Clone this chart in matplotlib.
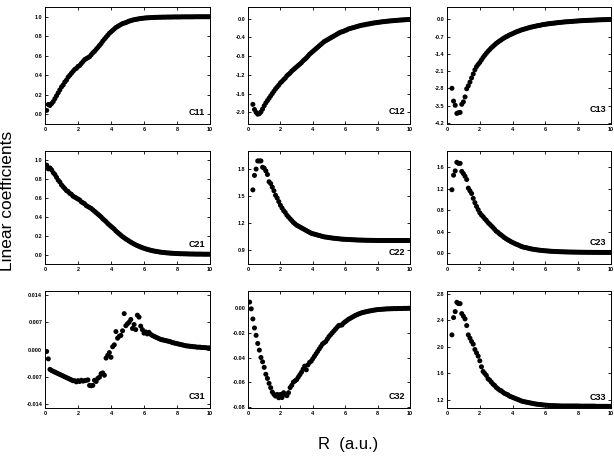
import numpy as np
import matplotlib
matplotlib.use("Agg")
import matplotlib.pyplot as plt

plt.rcParams['font.family'] = ['Liberation Sans', 'DejaVu Sans']

# R grid (a.u.), step 0.1
R = np.round(np.arange(1, 101) * 0.1, 1)

c11 = [0.04, 0.10, 0.09, 0.11, 0.13, 0.16, 0.19, 0.22, 0.25, 0.28,
       0.30, 0.33, 0.35, 0.38, 0.40, 0.42, 0.44, 0.46, 0.47, 0.49,
       0.50, 0.52, 0.54, 0.56, 0.57, 0.58, 0.59, 0.61, 0.63, 0.645,
       0.665, 0.685, 0.705, 0.725, 0.75, 0.77, 0.79, 0.81, 0.83, 0.845,
       0.86, 0.875, 0.89, 0.90, 0.91, 0.92, 0.93, 0.935, 0.94, 0.948,
       0.955, 0.96, 0.965, 0.97, 0.973, 0.976, 0.979, 0.982, 0.984, 0.986,
       0.988, 0.989, 0.990, 0.991, 0.992, 0.993, 0.994, 0.994, 0.995, 0.995,
       0.996, 0.996, 0.996, 0.997, 0.997, 0.997, 0.997, 0.998, 0.998, 0.998,
       0.998, 0.998, 0.999, 0.999, 0.999, 0.999, 0.999, 0.999, 0.999, 0.999,
       1.0, 1.0, 1.0, 1.0, 1.0, 1.0, 1.0, 1.0, 1.0, 1.0]

c12 = [-1.83, -1.94, -2.00, -2.04, -2.03, -1.99, -1.93, -1.86,
       -1.80, -1.75, -1.70, -1.65, -1.60, -1.55, -1.50, -1.46, -1.42, -1.37,
       -1.34, -1.30, -1.27, -1.22, -1.19, -1.16, -1.12, -1.09, -1.06, -1.03,
       -1.00, -0.97, -0.94, -0.90, -0.87, -0.84, -0.80, -0.76, -0.73, -0.70,
       -0.67, -0.64, -0.61, -0.58, -0.55, -0.52, -0.49, -0.47, -0.45, -0.43,
       -0.41, -0.39, -0.37, -0.35, -0.33, -0.31, -0.29, -0.28, -0.27, -0.25,
       -0.24, -0.22, -0.21, -0.20, -0.19, -0.18, -0.17, -0.16, -0.15, -0.14,
       -0.135, -0.13, -0.12, -0.115, -0.11, -0.10, -0.095, -0.09, -0.085, -0.08,
       -0.075, -0.07, -0.066, -0.062, -0.058, -0.054, -0.05, -0.047, -0.044, -0.041,
       -0.038, -0.035, -0.032, -0.029, -0.027, -0.025, -0.022, -0.02, -0.018, -0.016]

c13 = [-2.80, -3.32, -3.49, -3.82, -3.79, -3.78, -3.45, -3.35,
       -3.15, -2.82, -2.70, -2.55, -2.38, -2.22, -2.05, -1.92, -1.83, -1.75,
       -1.65, -1.55, -1.46, -1.38, -1.30, -1.23, -1.16, -1.10, -1.04, -0.98,
       -0.93, -0.88, -0.84, -0.79, -0.75, -0.71, -0.68, -0.64, -0.61, -0.58,
       -0.55, -0.52, -0.49, -0.47, -0.44, -0.42, -0.40, -0.38, -0.36, -0.34,
       -0.32, -0.31, -0.29, -0.28, -0.26, -0.25, -0.24, -0.22, -0.21, -0.20,
       -0.19, -0.18, -0.17, -0.165, -0.155, -0.15, -0.14, -0.13, -0.125, -0.12,
       -0.11, -0.105, -0.10, -0.095, -0.09, -0.085, -0.08, -0.075, -0.07, -0.065,
       -0.06, -0.056, -0.052, -0.048, -0.045, -0.042, -0.039, -0.036, -0.033, -0.03,
       -0.027, -0.024, -0.021, -0.018, -0.016, -0.014, -0.012, -0.01, -0.008, -0.006]

c21 = [0.95, 0.91, 0.92, 0.90, 0.87, 0.85, 0.82, 0.79, 0.77, 0.74,
       0.72, 0.70, 0.68, 0.67, 0.65, 0.64, 0.62, 0.61, 0.60, 0.59,
       0.58, 0.56, 0.55, 0.54, 0.52, 0.51, 0.50, 0.49, 0.475, 0.46,
       0.445, 0.43, 0.415, 0.40, 0.38, 0.365, 0.35, 0.33, 0.315, 0.30,
       0.285, 0.27, 0.25, 0.235, 0.22, 0.205, 0.19, 0.178, 0.165, 0.155,
       0.143, 0.132, 0.122, 0.112, 0.103, 0.095, 0.087, 0.08, 0.073, 0.067,
       0.061, 0.056, 0.051, 0.046, 0.042, 0.038, 0.035, 0.032, 0.029, 0.026,
       0.024, 0.022, 0.02, 0.018, 0.017, 0.015, 0.014, 0.013, 0.012, 0.011,
       0.010, 0.009, 0.009, 0.008, 0.008, 0.007, 0.007, 0.006, 0.006, 0.006,
       0.005, 0.005, 0.005, 0.005, 0.005, 0.004, 0.004, 0.004, 0.004, 0.004]

c22 = [1.57, 1.73, 1.80, 1.89, 1.89, 1.89, 1.82, 1.81,
       1.78, 1.74, 1.66, 1.64, 1.60, 1.56, 1.51, 1.48, 1.44, 1.40,
       1.37, 1.34, 1.32, 1.29, 1.27, 1.25, 1.23, 1.21, 1.195, 1.18,
       1.17, 1.16, 1.15, 1.14, 1.13, 1.12, 1.11, 1.10, 1.09, 1.085,
       1.08, 1.075, 1.07, 1.065, 1.06, 1.055, 1.05, 1.048, 1.045, 1.042,
       1.04, 1.037, 1.035, 1.033, 1.031, 1.029, 1.027, 1.025, 1.024, 1.023,
       1.022, 1.021, 1.02, 1.019, 1.018, 1.017, 1.016, 1.015, 1.015, 1.014,
       1.014, 1.013, 1.013, 1.012, 1.012, 1.012, 1.011, 1.011, 1.011, 1.01,
       1.01, 1.01, 1.01, 1.01, 1.01, 1.01, 1.01, 1.01, 1.01, 1.01,
       1.01, 1.01, 1.01, 1.01, 1.01, 1.01, 1.01, 1.01, 1.01, 1.01]

c23 = [1.18, 1.45, 1.53, 1.69, 1.67, 1.67, 1.52, 1.48,
       1.43, 1.37, 1.21, 1.16, 1.11, 1.02, 0.94, 0.87, 0.81, 0.75,
       0.71, 0.68, 0.64, 0.61, 0.57, 0.54, 0.51, 0.48, 0.445, 0.41,
       0.39, 0.36, 0.34, 0.315, 0.29, 0.27, 0.25, 0.235, 0.215, 0.20,
       0.185, 0.17, 0.16, 0.145, 0.13, 0.12, 0.11, 0.105, 0.097, 0.09,
       0.083, 0.077, 0.072, 0.067, 0.062, 0.058, 0.055, 0.051, 0.048, 0.045,
       0.043, 0.04, 0.038, 0.036, 0.034, 0.032, 0.031, 0.029, 0.028, 0.027,
       0.026, 0.025, 0.024, 0.023, 0.022, 0.022, 0.021, 0.021, 0.02, 0.02,
       0.019, 0.019, 0.018, 0.018, 0.018, 0.017, 0.017, 0.017, 0.016, 0.016,
       0.016, 0.016, 0.015, 0.015, 0.015, 0.015, 0.015, 0.015, 0.015, 0.015]

c31 = [-0.0005, -0.0024, -0.0051, -0.0054, -0.0056, -0.0058, -0.0060, -0.0062, -0.0064, -0.0066,
       -0.0068, -0.0070, -0.0072, -0.0074, -0.0076, -0.0078, -0.0080, -0.0080, -0.0083, -0.0080,
       -0.0082, -0.0079, -0.0081, -0.0080, -0.0079, -0.0078, -0.0092, -0.0093, -0.0092, -0.0079,
       -0.0082, -0.0074, -0.0071, -0.0062, -0.0060, -0.0066, -0.0022, -0.0015, -0.0008, -0.0020,
       0.0007, 0.0012, 0.0046, 0.0029, 0.0034, 0.0036, 0.0048, 0.0092, 0.0061, 0.0066,
       0.0070, 0.0077, 0.0054, 0.0064, 0.0051, 0.0088, 0.0083, 0.0060, 0.0051, 0.0042,
       0.0045, 0.0040, 0.0044, 0.0039, 0.0036, 0.0034, 0.0032, 0.0030, 0.0028, 0.0026,
       0.0025, 0.0024, 0.0023, 0.0022, 0.0021, 0.0020, 0.0018, 0.0017, 0.0016, 0.0015,
       0.0014, 0.0013, 0.0012, 0.0011, 0.0010, 0.0009, 0.0009, 0.0008, 0.0008, 0.0007,
       0.0007, 0.0006, 0.0006, 0.0006, 0.0005, 0.0005, 0.0005, 0.0004, 0.0004, 0.0004]

c32 = [0.005, -0.0005, -0.0087, -0.016, -0.022, -0.0286, -0.034, -0.040, -0.0435, -0.048,
       -0.0536, -0.057, -0.061, -0.0645, -0.068, -0.070, -0.0713, -0.070, -0.0727, -0.070,
       -0.0725, -0.0686, -0.0700, -0.0710, -0.0686, -0.0645, -0.0626, -0.060, -0.059, -0.058,
       -0.056, -0.054, -0.052, -0.0495, -0.047, -0.050, -0.046, -0.044, -0.043, -0.041,
       -0.039, -0.037, -0.035, -0.033, -0.031, -0.029, -0.028, -0.027, -0.025, -0.023,
       -0.0215, -0.020, -0.0185, -0.017, -0.0155, -0.014, -0.0138, -0.0136, -0.012, -0.011,
       -0.010, -0.009, -0.0083, -0.0075, -0.0068, -0.006, -0.0054, -0.0048, -0.0043, -0.0038,
       -0.0034, -0.0031, -0.0028, -0.0025, -0.0022, -0.002, -0.0017, -0.0015, -0.0013, -0.0011,
       -0.001, -0.0009, -0.0008, -0.0007, -0.0006, -0.0005, -0.0005, -0.0004, -0.0004, -0.0003,
       -0.0003, -0.0003, -0.0002, -0.0002, -0.0002, -0.0001, -0.0001, -0.0001, 0.0, 0.0]

c33 = [2.18, 2.44, 2.53, 2.67, 2.65, 2.65, 2.50, 2.46,
       2.42, 2.32, 2.18, 2.13, 2.08, 2.04, 1.96, 1.91, 1.86, 1.79,
       1.70, 1.63, 1.60, 1.57, 1.52, 1.50, 1.47, 1.44, 1.42, 1.39,
       1.37, 1.35, 1.34, 1.32, 1.30, 1.29, 1.28, 1.26, 1.25, 1.24,
       1.23, 1.22, 1.21, 1.20, 1.19, 1.18, 1.175, 1.17, 1.165, 1.16,
       1.155, 1.15, 1.145, 1.14, 1.137, 1.134, 1.131, 1.128, 1.125, 1.123,
       1.121, 1.119, 1.117, 1.116, 1.115, 1.114, 1.113, 1.112, 1.111, 1.11,
       1.11, 1.11, 1.11, 1.11, 1.11, 1.11, 1.11, 1.11, 1.11, 1.11,
       1.108, 1.108, 1.108, 1.108, 1.108, 1.108, 1.108, 1.108, 1.108, 1.108,
       1.105, 1.105, 1.105, 1.105, 1.105, 1.105, 1.105, 1.105, 1.105, 1.105]

names = ["C11", "C12", "C13", "C21", "C22", "C23", "C31", "C32", "C33"]
series = [c11, c12, c13, c21, c22, c23, c31, c32, c33]
ylims = [(-0.1, 1.1), (-2.25, 0.25), (-4.25, 0.5),
         (-0.1, 1.1), (0.75, 2.0), (-0.2, 1.9),
         (-0.015, 0.015), (-0.081, 0.014), (1.08, 2.84)]
yticks = [[0.0, 0.2, 0.4, 0.6, 0.8, 1.0],
          [-2.0, -1.6, -1.2, -0.8, -0.4, 0.0],
          [-4.2, -3.5, -2.8, -2.1, -1.4, -0.7, 0.0],
          [0.0, 0.2, 0.4, 0.6, 0.8, 1.0],
          [0.9, 1.2, 1.5, 1.8],
          [0.0, 0.4, 0.8, 1.2, 1.6],
          [-0.014, -0.007, 0.0, 0.007, 0.014],
          [-0.08, -0.06, -0.04, -0.02, 0.0],
          [1.2, 1.6, 2.0, 2.4, 2.8]]
yfmt = ["%.1f", "%.1f", "%.1f", "%.1f", "%.1f", "%.1f", "%.3f", "%.2f", "%.1f"]
# vertical position of the panel name (axes fraction)
label_y = [0.1, 0.11, 0.12, 0.17, 0.1, 0.19, 0.1, 0.1, 0.09]

W, H = 614, 457
lefts = [45, 248, 447]
rights = [210, 410, 611]
tops = [7, 151, 291]
bottoms = [124, 264, 408]

fig = plt.figure(figsize=(W / 100, H / 100), dpi=100)

for i, (name, y) in enumerate(zip(names, series)):
    r, c = divmod(i, 3)
    ax = fig.add_axes([lefts[c] / W, 1 - bottoms[r] / H,
                       (rights[c] - lefts[c]) / W, (bottoms[r] - tops[r]) / H])
    x = R[len(R) - len(y):]
    ax.scatter(x, y, s=13, c="black", edgecolors="none")
    ax.set_xlim(0, 10)
    ax.set_ylim(*ylims[i])
    ax.set_xticks([0, 2, 4, 6, 8, 10])
    ax.set_xticklabels(["0", "2", "4", "6", "8", "10"])
    ax.set_yticks(yticks[i])
    ax.set_yticklabels([yfmt[i] % v for v in yticks[i]])
    ax.tick_params(direction="in", top=True, right=True, length=2, width=0.6,
                   labelsize=4, pad=2)
    for lab in ax.get_xticklabels() + ax.get_yticklabels():
        lab.set_fontweight("bold")
    for sp in ax.spines.values():
        sp.set_linewidth(0.7)
    ax.text(0.97, label_y[i], name, transform=ax.transAxes, ha="right", va="center",
            fontsize=6.5, fontweight="bold")

fig.text(8 / W, 1 - 201 / H, "Linear coefficients", rotation=90,
         ha="center", va="center", fontsize=12.5)
fig.text(348 / W, 1 - 444 / H, "R  (a.u.)", ha="center", va="center", fontsize=12)

fig.savefig("out.png", dpi=100)
